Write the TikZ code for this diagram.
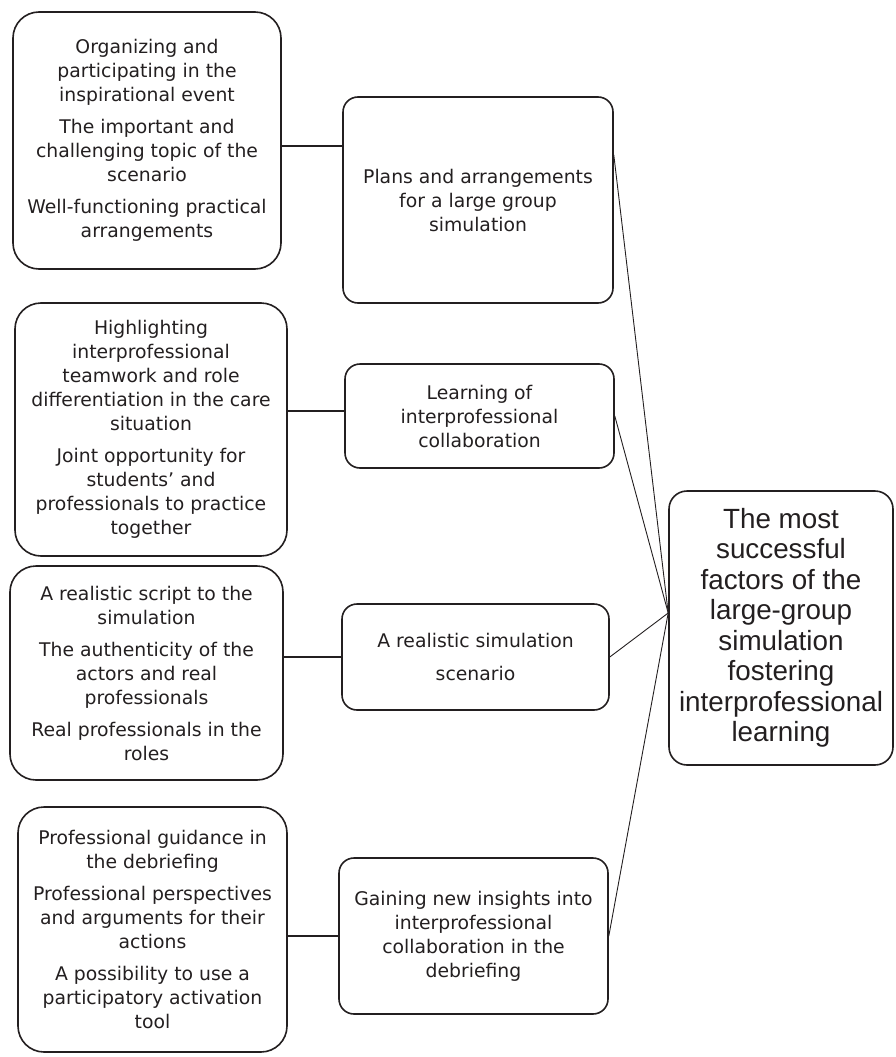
\documentclass[tikz,border=0pt]{standalone}
\usepackage{fontspec}
\setmainfont{DejaVu Sans}
\newfontfamily\arialfont{Liberation Sans}
\definecolor{ink}{HTML}{231F20}
\begin{document}
\begin{tikzpicture}[x=1pt,y=-1pt,
  box/.style={draw=ink, line width=1.6pt, align=center, text=ink, inner sep=0pt,
    font=\fontsize{18.8}{24}\selectfont},
  leftbox/.style={box, rounded corners=26pt},
  midbox/.style={box, rounded corners=15pt},
  mainbox/.style={box, rounded corners=18pt, font=\arialfont\fontsize{27.8}{30.5}\selectfont},
  conn/.style={draw=ink, line width=1.6pt},
  thin/.style={draw=ink, line width=0.9pt}]
\useasboundingbox (0,0) rectangle (896,1057);

% left boxes
\node[leftbox, minimum width=268pt, minimum height=257pt] (A1) at (147,140.5)
  {Organizing and\\participating in the\\inspirational event\\[8pt]The important and\\challenging topic of the\\scenario\\[8pt]Well-functioning practical\\arrangements};
\node[leftbox, minimum width=272pt, minimum height=253pt] (A2) at (151,429.5)
  {Highlighting\\interprofessional\\teamwork and role\\differentiation in the care\\situation\\[8pt]Joint opportunity for\\students' and\\professionals to practice\\together};
\node[leftbox, minimum width=273pt, minimum height=214pt] (A3) at (146.5,673)
  {A realistic script to the\\simulation\\[8pt]The authenticity of the\\actors and real\\professionals\\[8pt]Real professionals in the\\roles};
\node[leftbox, minimum width=269pt, minimum height=245pt] (A4) at (152.5,929.5)
  {Professional guidance in\\the debriefing\\[8pt]Professional perspectives\\and arguments for their\\actions\\[8pt]A possibility to use a\\participatory activation\\tool};

% middle boxes
\node[midbox, minimum width=270pt, minimum height=206pt] (B1) at (478,200)
  {Plans and arrangements\\for a large group\\simulation};
\node[midbox, minimum width=269pt, minimum height=104pt] (B2) at (479.5,416)
  {Learning of\\interprofessional\\collaboration};
\node[midbox, minimum width=267pt, minimum height=106pt] (B3) at (475.5,657)
  {A realistic simulation\\[9pt]scenario};
\node[midbox, minimum width=269pt, minimum height=156pt] (B4) at (473.5,936)
  {Gaining new insights into\\interprofessional\\collaboration in the\\debriefing};

% main box
\node[mainbox, minimum width=224pt, minimum height=274pt] (C) at (781,628)
  {The most\\successful\\factors of the\\large-group\\simulation\\fostering\\interprofessional\\learning};

% connectors left -> middle
\coordinate (c1) at ([yshift=-5.5pt]A1.east);
\draw[conn] (c1) -- (c1 -| B1.west);
\coordinate (c2) at ([yshift=18.5pt]A2.east);
\draw[conn] (c2) -- (c2 -| B2.west);
\draw[conn] (A3.east |- B3.west) -- (B3.west);
\draw[conn] (A4.east |- B4.west) -- (B4.west);

% connectors middle -> main
\coordinate (hub) at ([yshift=15pt]C.west);
\coordinate (d1) at ([yshift=45pt]B1.east);
\draw[thin] (d1) -- (hub);
\draw[thin] (B2.east) -- (hub);
\draw[thin] (B3.east) -- (hub);
\draw[thin] (B4.east) -- (hub);
\end{tikzpicture}
\end{document}
